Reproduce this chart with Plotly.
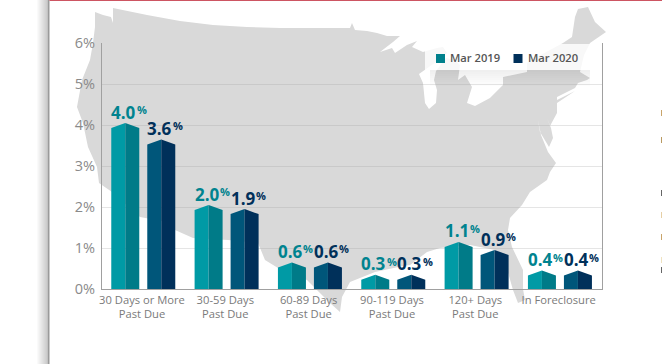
import plotly.graph_objects as go

W, H = 662, 364
PLOT_L, PLOT_R, PLOT_T, PLOT_B = 102, 602, 43, 289

categories = ["30 Days or More<br>Past Due", "30-59 Days<br>Past Due", "60-89 Days<br>Past Due",
              "90-119 Days<br>Past Due", "120+ Days<br>Past Due", "In Foreclosure"]
mar_2019 = [4.0, 2.0, 0.6, 0.3, 1.1, 0.4]
mar_2020 = [3.6, 1.9, 0.6, 0.3, 0.9, 0.4]
y_ticks = [0, 1, 2, 3, 4, 5, 6]

# Decorative background outline of the USA, in page pixels
us_outline = [
    (95,12),(103,15),(111,17),(113,23),(113,8),(147,15),(180,21),(213,25),(247,27),(280,28),(350,28),(352,23),
    (355,30),(367,31),(377,33),(387,36),(400,36),(393,42),(380,52),(392,48),(395,53),(407,45),(417,41),(412,47),
    (423,52),(437,48),(443,47),(447,53),(436,62),(419,74),(423,83),(425,103),(429,109),(436,103),(437,90),(434,80),
    (436,71),(446,58),(455,60),(460,65),(458,80),(465,75),(472,87),(467,103),(475,106),(490,98),(503,85),(503,77),
    (527,72),(527,63),(537,57),(563,43),(572,37),(575,17),(578,9),(588,7),(595,22),(606,32),(590,43),(584,55),
    (580,72),(590,78),(587,80),(578,83),(575,88),(557,97),(557,100),(575,91),(557,103),(557,113),(550,126),(547,118),
    (551,128),(553,138),(549,147),(540,132),(538,120),(541,135),(548,152),(556,163),(550,172),(547,180),(530,192),
    (522,205),(510,218),(508,230),(512,247),(523,270),(523,289),(525,300),(518,303),(513,290),(505,262),(495,250),
    (470,245),(440,248),(427,252),(410,265),(403,266),(375,272),(350,282),(342,297),(340,312),(330,303),(317,290),
    (307,280),(278,268),(265,260),(258,243),(228,240),(193,238),(175,230),(167,222),(140,217),(112,192),(99,183),
    (97,167),(88,147),(83,123),(77,107),(82,80),(90,60),(93,43),(95,27),
]
# Cut-off specks of neighbouring page text at the right edge, in page pixels
edge_specks = [(113, "#c9a46a"), (140, "#b99a62"), (193, "#666666"), (215, "#e6cfa5"),
               (237, "#c9a46a"), (260, "#efe2c0"), (270, "#666666")]


def px(x): return x / W
def py(y): return 1 - y / H


UNIT_PX = (PLOT_R - PLOT_L) / len(categories)
PX_PER_PCT = (PLOT_B - PLOT_T) / 6
HALF = 14 / UNIT_PX
APEX = 2 / PX_PER_PCT
SHOULDER = 3 / PX_PER_PCT


def faces(values, center_offset):
    lx, ly, rx, ry = [], [], [], []
    for i, v in enumerate(values):
        c = i + 0.5 + center_offset
        lx += [c - HALF, c - HALF, c, c, None]
        ly += [0, v - SHOULDER, v + APEX, 0, None]
        rx += [c, c, c + HALF, c + HALF, None]
        ry += [0, v + APEX, v - SHOULDER, 0, None]
    return lx, ly, rx, ry


fig = go.Figure()
series = [
    ("Mar 2019", mar_2019, -18.4 / UNIT_PX, "#009aa5", "#007b88", "#00838f"),
    ("Mar 2020", mar_2020, 17.6 / UNIT_PX, "#00567a", "#00305a", "#00305a"),
]
annotations = []
for name, vals, off, light, dark, txt in series:
    lx, ly, rx, ry = faces(vals, off)
    for xs, ys, col in ((lx, ly, light), (rx, ry, dark)):
        fig.add_trace(go.Scatter(x=xs, y=ys, mode="lines", fill="toself", fillcolor=col,
                                 line=dict(width=0, color=col), showlegend=False, hoverinfo="skip", name=name))
    for i, v in enumerate(vals):
        left = i + 0.5 + off - HALF
        annotations.append(dict(
            x=left, y=v + APEX, xref="x", yref="y", text=f"{v:.1f}", showarrow=False,
            xanchor="left", yanchor="bottom", yshift=-1.5, xshift=-1, borderpad=0,
            font=dict(family="Open Sans", size=17, color=txt, weight=700)))
        annotations.append(dict(
            x=left + 25.5 / UNIT_PX, y=v + APEX, xref="x", yref="y", text="%", showarrow=False,
            xanchor="left", yanchor="bottom", yshift=5, xshift=-1, borderpad=0,
            font=dict(family="Open Sans", size=11, color=txt, weight=700)))

shapes = [dict(type="path", xref="paper", yref="paper", layer="below", line=dict(width=0), fillcolor="#d9d9d9",
               path="M " + " L ".join(f"{px(x):.5f},{py(y):.5f}" for x, y in us_outline) + " Z")]
# page frame
for k in range(10):
    shapes.append(dict(type="rect", xref="paper", yref="paper", layer="below", line=dict(width=0),
                       fillcolor="rgba(0,0,0,0.018)", x0=px(47 - k - 1), x1=px(47.5), y0=0, y1=1))
shapes.append(dict(type="rect", xref="paper", yref="paper", layer="below", line=dict(width=0), fillcolor="#9a9a9a",
                   x0=px(47.5), x1=px(49.5), y0=0, y1=1))
shapes.append(dict(type="rect", xref="paper", yref="paper", layer="below", line=dict(width=0), fillcolor="#cd5562",
                   x0=px(49.5), x1=1, y0=py(1), y1=1))
# legend panel and its shadow
shapes.append(dict(type="rect", xref="paper", yref="paper", layer="above", line=dict(width=0),
                   fillcolor="rgba(255,255,255,0.8)", x0=px(425), x1=px(595), y0=py(70), y1=py(44)))
for k in range(1, 9):
    shapes.append(dict(type="rect", xref="paper", yref="paper", layer="above", line=dict(width=0),
                       fillcolor="rgba(0,0,0,0.007)", x0=px(430), x1=px(590), y0=py(70 + k * 2), y1=py(70)))
for y, col in edge_specks:
    shapes.append(dict(type="rect", xref="paper", yref="paper", layer="above", line=dict(width=0), fillcolor=col,
                       x0=px(661), x1=px(662), y0=py(y + 3), y1=py(y - 3)))
# legend entries
for name, x0, col in (("Mar 2019", 436, "#00808c"), ("Mar 2020", 513.5, "#00305a")):
    shapes.append(dict(type="rect", xref="paper", yref="paper", layer="above", line=dict(width=0), fillcolor=col,
                       x0=px(x0), x1=px(x0 + 9), y0=py(63), y1=py(54)))
    annotations.append(dict(x=px(x0 + 14), y=py(58), xref="paper", yref="paper", text=name, showarrow=False,
                            xanchor="left", yanchor="middle", borderpad=0, xshift=-1,
                            font=dict(family="Open Sans", size=11.2, color="#555555", weight=600)))

fig.update_layout(
    width=W, height=H, margin=dict(l=0, r=0, t=0, b=0), autosize=False, showlegend=False,
    paper_bgcolor="white", plot_bgcolor="rgba(0,0,0,0)", shapes=shapes, annotations=annotations,
    font=dict(family="Open Sans"),
    xaxis=dict(domain=[px(PLOT_L), px(PLOT_R)], range=[0, len(categories)], tickmode="array",
               tickvals=[i + 0.5 - 1.7 / UNIT_PX for i in range(len(categories))], ticktext=categories,
               showgrid=False, zeroline=False, showline=True, linecolor="#a0a0a0", linewidth=1.2, ticks="",
               tickangle=0, tickfont=dict(family="Open Sans", size=11.2, color="#7a7a7a"), automargin=False),
    yaxis=dict(domain=[py(PLOT_B), py(PLOT_T)], range=[0, 6], tickmode="array", tickvals=y_ticks,
               ticktext=[f"{t}%" for t in y_ticks], showgrid=True, gridcolor="rgba(160,160,160,0.27)", gridwidth=1,
               zeroline=False, showline=True, mirror=True, linecolor="#a0a0a0", linewidth=1.2, ticks="",
               ticklabelstandoff=3,
               tickfont=dict(family="Open Sans", size=14.5, color="#8a8a8a"), automargin=False),
)
fig.write_html("out.html", config={"displayModeBar": False},
               post_script="document.body.style.margin='0';document.documentElement.style.overflow='hidden';")
